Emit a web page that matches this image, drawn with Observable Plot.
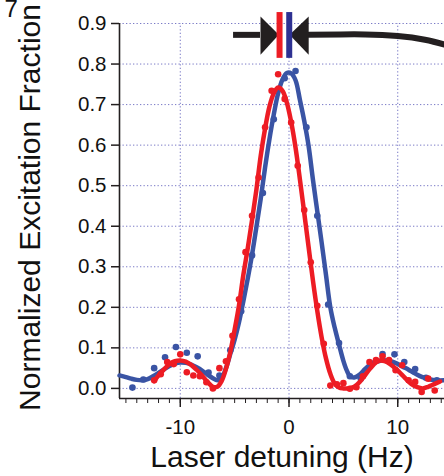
<!DOCTYPE html>
<html><head><meta charset="utf-8">
<script src="https://cdn.jsdelivr.net/npm/d3@7"></script>
<script src="https://cdn.jsdelivr.net/npm/@observablehq/plot@0.6"></script>
<style>body{margin:0;background:#fff;}</style>
</head><body><div id="chart"></div>
<script>
const xDomain = [-15.59, 14.3];
const yDomain = [-0.0249, 0.9];
const yTicks = [0, 0.1, 0.2, 0.3, 0.4, 0.5, 0.6, 0.7, 0.8, 0.9];
const xMajorTicks = [-10, 0, 10];
const xMinorTicks = [-15,-14,-13,-12,-11,-10,-9,-8,-7,-6,-5,-4,-3,-2,-1,0,1,2,3,4,5,6,7,8,9,10,11,12,13,14];

// blue series: data points
const blueDotX = [-14.4,-13.4,-12.4,-11.4,-10.4,-9.4,-8.4,-7.4,-6.4,-5.4,-4.4,-3.4,-2.4,-1.4,-0.4,0.6,1.6,2.6,3.6,4.6,5.6,6.6,7.6,8.6,9.7,10.6,11.6,12.6,13.6];
const blueDotY = [0.002,0.022,0.050,0.077,0.102,0.088,0.079,0.039,0.032,0.094,0.19,0.328,0.482,0.664,0.765,0.783,0.644,0.426,0.207,0.112,0.030,0.024,0.061,0.085,0.084,0.065,0.048,0.026,0.020];
// blue fitted curve
const blueFitX = [-15.59,-15,-14.5,-14,-13.5,-13,-12.5,-12,-11.5,-11,-10.5,-10,-9.5,-9,-8.5,-8,-7.5,-7,-6.6,-6.2,-5.8,-5.4,-5.0,-4.6,-4.2,-3.8,-3.4,-3.0,-2.6,-2.2,-1.8,-1.4,-1.0,-0.6,-0.2,0.2,0.6,1.0,1.4,1.8,2.2,2.6,3.0,3.4,3.8,4.2,4.6,5.0,5.3,5.6,6.0,6.5,7.0,7.5,8.0,8.5,9.0,9.5,10.0,10.5,11.0,11.5,12.0,12.5,13.0,13.5,14.3];
const blueFitY = [0.032,0.028,0.024,0.021,0.020,0.023,0.030,0.038,0.047,0.055,0.061,0.064,0.063,0.059,0.052,0.044,0.034,0.025,0.020,0.026,0.050,0.085,0.120,0.163,0.215,0.270,0.330,0.398,0.468,0.545,0.615,0.676,0.728,0.762,0.778,0.777,0.760,0.712,0.660,0.598,0.515,0.437,0.360,0.280,0.200,0.150,0.108,0.068,0.045,0.030,0.027,0.034,0.048,0.059,0.065,0.069,0.069,0.066,0.060,0.053,0.046,0.038,0.031,0.026,0.022,0.020,0.020];

// red series: data points
const redDotX = [-12.4,-11.8,-11.2,-10.6,-10.0,-9.4,-8.8,-8.2,-7.6,-7.0,-6.4,-5.8,-5.2,-4.6,-4.0,-3.4,-2.8,-2.2,-1.6,-1.0,-0.4,0.2,0.8,1.4,2.0,2.6,3.2,3.8,4.4,5.0,5.6,6.2,6.8,7.4,8.0,8.6,9.2,9.8,10.4,11.0,11.6,12.2,12.8,13.4];
const redDotY = [0.020,0.035,0.065,0.060,0.084,0.040,0.032,0.030,0.015,0.000,0.050,0.067,0.130,0.220,0.336,0.426,0.520,0.644,0.734,0.775,0.714,0.656,0.549,0.440,0.311,0.204,0.110,0.007,0.010,0.013,-0.001,0.003,0.030,0.065,0.070,0.079,0.070,0.045,0.057,0.020,0.016,-0.009,0.024,-0.005];
// red fitted curve
const redFitX = [-12.4,-12,-11.5,-11,-10.5,-10,-9.5,-9,-8.5,-8,-7.5,-7,-6.6,-6.2,-5.8,-5.4,-5.0,-4.6,-4.2,-3.8,-3.4,-3.0,-2.6,-2.2,-1.8,-1.4,-1.0,-0.6,-0.2,0.2,0.6,1.0,1.4,1.8,2.2,2.6,3.0,3.4,3.8,4.2,4.6,5.0,5.5,6.0,6.5,7.0,7.5,8.0,8.4,8.8,9.3,9.8,10.3,10.8,11.3,11.8,12.3,12.8,13.3,13.9];
const redFitY = [0.018,0.032,0.047,0.060,0.067,0.069,0.066,0.058,0.046,0.032,0.016,0.004,0.004,0.018,0.048,0.090,0.145,0.205,0.280,0.345,0.415,0.490,0.574,0.641,0.695,0.728,0.742,0.734,0.705,0.657,0.594,0.516,0.433,0.349,0.266,0.191,0.126,0.074,0.036,0.012,0.002,0.000,0.000,0.004,0.016,0.033,0.050,0.064,0.069,0.067,0.060,0.049,0.036,0.022,0.010,0.003,0.000,0.004,0.010,0.017];

// annotation (arrows with markers)
const arrowY = 0.872;
const leftStubX = [-5.10, -2.62];
const headY = [0.917, 0.823, 0.872];
const leftHeadX = [-2.62, -2.62, -0.94];
const rightHeadX = [1.81, 1.81, 0.05];
const markerX = [-0.87, 0.02];
const markerColor = ["#ed1c24", "#2e3192"];
const markerY = [0.814, 0.927];
const tailX = [1.81, 4.7, 7.0, 10.0, 12.5, 14.3];
const tailY = [0.872, 0.873, 0.873, 0.869, 0.860, 0.848];

const blue = "#3a54a4";
const red = "#ed1c24";
const ink = "#231f20";
const gridColor = "#6a6ac0";

const zip = (xs, ys) => xs.map((x, i) => ({x, y: ys[i]}));
const blueDots = zip(blueDotX, blueDotY);
const blueFit = zip(blueFitX, blueFitY);
const redDots = zip(redDotX, redDotY);
const redFit = zip(redFitX, redFitY);
const leftHead = zip(leftHeadX, headY);
const rightHead = zip(rightHeadX, headY);
const tail = zip(tailX, tailY);
const markers = markerX.map((x, i) => ({x, c: markerColor[i]}));

const chart = Plot.plot({
  width: 444, height: 476,
  marginLeft: 119, marginRight: 0, marginTop: 23, marginBottom: 78,
  x: {domain: xDomain},
  y: {domain: yDomain},
  style: {fontFamily: "'Liberation Sans', Arial, sans-serif", background: "white", color: ink},
  marks: [
    Plot.gridY(yTicks, {stroke: gridColor, strokeOpacity: 0.9, strokeDasharray: "1.3,2.2", strokeWidth: 1}),
    Plot.gridX(xMajorTicks, {stroke: gridColor, strokeOpacity: 0.9, strokeDasharray: "1.3,2.2", strokeWidth: 1, y1: yDomain[0], y2: 0.9}),
    Plot.axisY(yTicks, {tickSize: 8, tickPadding: 5, tickFormat: d3.format(".1f"), fontSize: 20.5, strokeWidth: 1.5, label: null, fill: "#111"}),
    Plot.axisX(xMajorTicks, {tickSize: 9, tickPadding: 12, tickFormat: d => String(d), fontSize: 20.5, strokeWidth: 1.5, label: null, fill: "#111"}),
    Plot.axisX(xMinorTicks, {tickSize: 5, tickFormat: () => "", strokeWidth: 1, label: null}),
    Plot.ruleX([xDomain[0]], {y1: yDomain[0], y2: 0.9, stroke: ink, strokeWidth: 1.6}),
    Plot.ruleY([yDomain[0]], {x1: xDomain[0], x2: xDomain[1], stroke: ink, strokeWidth: 1.6}),
    Plot.line(blueFit, {x: "x", y: "y", stroke: blue, strokeWidth: 4.5, curve: "catmull-rom"}),
    Plot.dot(blueDots, {x: "x", y: "y", r: 3.3, fill: blue}),
    Plot.line(redFit, {x: "x", y: "y", stroke: red, strokeWidth: 4.5, curve: "catmull-rom"}),
    Plot.dot(redDots, {x: "x", y: "y", r: 3.3, fill: red}),
    // annotation
    Plot.ruleY([arrowY], {x1: leftStubX[0], x2: leftStubX[1], stroke: ink, strokeWidth: 6}),
    Plot.line(tail, {x: "x", y: "y", stroke: ink, strokeWidth: 6, curve: "natural"}),
    Plot.line(leftHead, {x: "x", y: "y", fill: ink, stroke: "none"}),
    Plot.line(rightHead, {x: "x", y: "y", fill: ink, stroke: "none"}),
    Plot.ruleX(markers, {x: "x", y1: markerY[0], y2: markerY[1], stroke: "c", strokeWidth: 6}),
    // titles
    Plot.text(["Laser detuning (Hz)"], {frameAnchor: "bottom", textAnchor: "middle", dy: 59, lineAnchor: "middle", fontSize: 30, fill: "#111"}),
    Plot.text(["Normalized Excitation Fraction"], {frameAnchor: "left", textAnchor: "middle", dx: -89, dy: -3.5, rotate: -90, lineAnchor: "middle", fontSize: 30, fill: "#111"}),
    Plot.text(["7"], {frameAnchor: "top-left", textAnchor: "start", dx: -115, dy: -14, lineAnchor: "middle", fontSize: 24, fill: "#111"})
  ]
});
document.getElementById("chart").appendChild(chart);
</script>
</body></html>
